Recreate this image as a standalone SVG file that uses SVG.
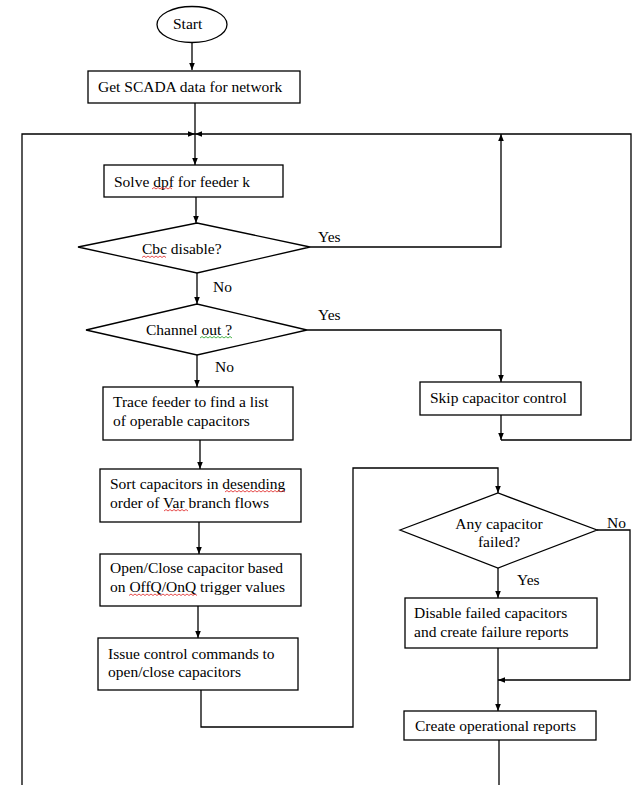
<svg xmlns="http://www.w3.org/2000/svg" width="633" height="785" viewBox="0 0 633 785">
<defs>
<marker id="ah" viewBox="0 0 10 10" refX="10" refY="5" markerUnits="userSpaceOnUse" markerWidth="7" markerHeight="7" orient="auto">
<path d="M0,1 L10,5 L0,9 z" fill="#000"/>
</marker>
<style>
.s{fill:#fff;stroke:#000;stroke-width:1.3}
.c{fill:none;stroke:#000;stroke-width:1.3}
.a{marker-end:url(#ah)}
text{font-family:"Liberation Serif","Times New Roman",serif;font-size:15.5px;fill:#000}
.r{fill:none;stroke:#e02020;stroke-width:0.8}
.g{fill:none;stroke:#20a020;stroke-width:0.8}
</style>
</defs>
<rect width="633" height="785" fill="#fff"/>
<g id="connectors">
<path class="c a" d="M192 43 L192 70"/>
<path class="c" d="M195 103 L195 134"/>
<path class="c a" d="M22 785 L22 134 L195 134"/>
<path class="c a" d="M501 440 L631 440 L631 134 L195 134"/>
<path class="c a" d="M195 134 L195 165"/>
<path class="c a" d="M196 197 L196 223"/>
<path class="c a" d="M310 247 L501 247 L501 134"/>
<path class="c a" d="M197 273 L197 304"/>
<path class="c a" d="M307 330 L501 330 L501 382"/>
<path class="c a" d="M501 415 L501 440"/>
<path class="c a" d="M197 355 L197 387"/>
<path class="c a" d="M200 440 L200 469"/>
<path class="c a" d="M199 522 L199 554"/>
<path class="c a" d="M198 606 L198 638"/>
<path class="c a" d="M201 690 L201 727 L353 727 L353 468 L498 468 L498 493"/>
<path class="c a" d="M597 530 L630 530 L630 680 L498 680"/>
<path class="c a" d="M498 568 L498 598"/>
<path class="c a" d="M498 648 L498 711"/>
<path class="c" d="M499 740 L499 785"/>
</g>
<g id="start">
<ellipse class="s" cx="192" cy="24.5" rx="35" ry="18"/>
<text x="173" y="29">Start</text>
</g>
<g id="scada">
<rect class="s" x="88" y="71" width="212" height="32"/>
<text x="98" y="92">Get SCADA data for network</text>
</g>
<g id="solve">
<rect class="s" x="104" y="165" width="179" height="32"/>
<text x="114" y="187">Solve dpf for feeder k</text>
<path class="r" d="M152 189 l2 -1.5 l2 1.5 l2 -1.5 l2 1.5 l2 -1.5 l2 1.5 l2 -1.5 l2 1.5 l2 -1.5 l2 1.5"/>
</g>
<g id="cbc">
<polygon class="s" points="78,247 197,223 310,247 197,273"/>
<text x="142" y="254">Cbc disable?</text>
<path class="r" d="M142 257.5 l2 -1.5 l2 1.5 l2 -1.5 l2 1.5 l2 -1.5 l2 1.5 l2 -1.5 l2 1.5 l2 -1.5 l2 1.5 l2 -1.5 l2 1.5"/>
<text x="318" y="242">Yes</text>
<text x="213" y="292">No</text>
</g>
<g id="channel">
<polygon class="s" points="86,330 197,304 307,330 197,355"/>
<text x="146" y="335">Channel out ?</text>
<path class="g" d="M200 338 l2 -1.5 l2 1.5 l2 -1.5 l2 1.5 l2 -1.5 l2 1.5 l2 -1.5 l2 1.5 l2 -1.5 l2 1.5 l2 -1.5 l2 1.5 l2 -1.5 l2 1.5 l2 -1.5 l2 1.5"/>
<text x="318" y="320">Yes</text>
<text x="215" y="372">No</text>
</g>
<g id="skip">
<rect class="s" x="420" y="382" width="161" height="33"/>
<text x="430" y="403">Skip capacitor  control</text>
</g>
<g id="trace">
<rect class="s" x="103" y="387" width="190" height="53"/>
<text x="113" y="407">Trace feeder to find a list</text>
<text x="113" y="426">of operable capacitors</text>
</g>
<g id="sort">
<rect class="s" x="100" y="469" width="201" height="53"/>
<text x="110" y="489">Sort capacitors in desending</text>
<text x="110" y="508">order of Var branch flows</text>
<path class="r" d="M225 492 l2 -1.5 l2 1.5 l2 -1.5 l2 1.5 l2 -1.5 l2 1.5 l2 -1.5 l2 1.5 l2 -1.5 l2 1.5 l2 -1.5 l2 1.5 l2 -1.5 l2 1.5 l2 -1.5 l2 1.5 l2 -1.5 l2 1.5 l2 -1.5 l2 1.5 l2 -1.5 l2 1.5 l2 -1.5 l2 1.5 l2 -1.5 l2 1.5 l2 -1.5 l2 1.5 l2 -1.5 l2 1.5"/>
<path class="r" d="M164 511 l2 -1.5 l2 1.5 l2 -1.5 l2 1.5 l2 -1.5 l2 1.5 l2 -1.5 l2 1.5 l2 -1.5 l2 1.5 l2 -1.5 l2 1.5"/>
</g>
<g id="openclose">
<rect class="s" x="100" y="554" width="201" height="52"/>
<text x="110" y="573">Open/Close capacitor  based</text>
<text x="110" y="592">on OffQ/OnQ trigger values</text>
<path class="r" d="M129 595.5 l2 -1.5 l2 1.5 l2 -1.5 l2 1.5 l2 -1.5 l2 1.5 l2 -1.5 l2 1.5 l2 -1.5 l2 1.5 l2 -1.5 l2 1.5 l2 -1.5 l2 1.5 l2 -1.5 l2 1.5 l2 -1.5 l2 1.5 l2 -1.5 l2 1.5 l2 -1.5 l2 1.5 l2 -1.5 l2 1.5 l2 -1.5 l2 1.5 l2 -1.5 l2 1.5 l2 -1.5 l2 1.5 l2 -1.5 l2 1.5 l2 -1.5 l2 1.5"/>
</g>
<g id="issue">
<rect class="s" x="98" y="638" width="200" height="52"/>
<text x="108" y="659">Issue control  commands  to</text>
<text x="108" y="677">open/close capacitors</text>
</g>
<g id="anyfailed">
<polygon class="s" points="400,530 498,493 597,530 498,568"/>
<text x="499" y="529" text-anchor="middle">Any capacitor</text>
<text x="499" y="547" text-anchor="middle">failed?</text>
<text x="607" y="528">No</text>
<text x="517" y="585">Yes</text>
</g>
<g id="disable">
<rect class="s" x="405" y="598" width="192" height="50"/>
<text x="414" y="618">Disable failed capacitors</text>
<text x="414" y="637">and create  failure reports</text>
</g>
<g id="create">
<rect class="s" x="404" y="711" width="192" height="29"/>
<text x="415" y="731">Create operational  reports</text>
</g>
</svg>
